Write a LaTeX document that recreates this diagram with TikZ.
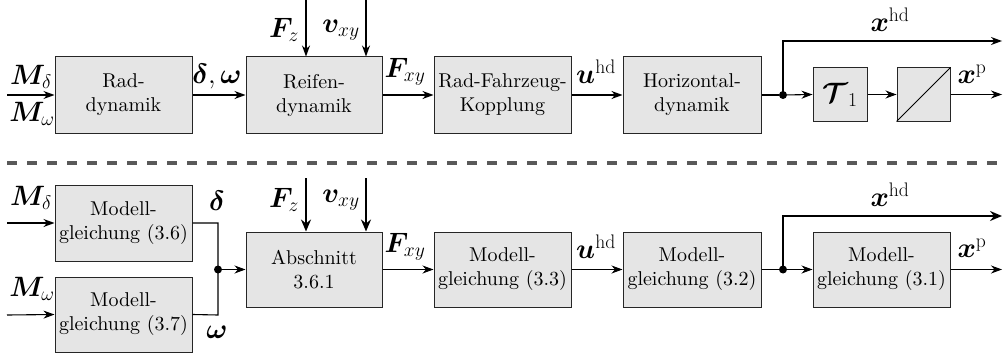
\RequirePackage{fix-cm}
\documentclass[tikz,border=0pt]{standalone}
\usepackage{amsmath,bm}
\usepackage[no-math]{fontspec}
\setmainfont{lmroman10-regular}[Extension=.otf]
\usetikzlibrary{arrows.meta}

\newcommand\mathlbl{\fontsize{28}{30}\selectfont}

\begin{document}
\begin{tikzpicture}[x=1pt,y=-1pt,
  font=\fontsize{20}{24}\selectfont,
  blk/.style={draw=black!85, fill=gray!20, line width=1pt, rectangle,
    inner sep=0pt, align=center, minimum width=137pt, minimum height=76pt},
  sblk/.style={blk, minimum width=54pt, minimum height=53pt},
  sig/.style={line width=1.1pt, -{Stealth[length=11pt,width=8pt,inset=3.5pt]}},
  wire/.style={line width=1.1pt},
  bsig/.style={line width=2.4pt, -{Stealth[length=12pt,width=10pt,inset=4pt]}},
  lbl/.style={font=\mathlbl, inner sep=0pt},
  dotnode/.style={circle, fill=black, inner sep=0pt, minimum size=8pt},
  sep/.style={line width=4.5pt, draw=black!65, dash pattern=on 10pt off 10pt}
]
\useasboundingbox (0,0) rectangle (1006,353);

% ---------- upper chain ----------
\node[blk] (rad)   at (123.5,95) {Rad-\\dynamik};
\node[blk, minimum width=136pt] (reif) at (314,95) {Reifen-\\dynamik};
\node[blk] (kopp)  at (502.5,95) {Rad-Fahrzeug-\\Kopplung};
\node[blk, minimum width=138pt] (horiz) at (692,95) {Horizontal-\\dynamik};
\node[sblk] (tau)  at (840,94.5) {};
\node[lbl] at (tau.center) {$\bm{\mathcal{T}}_1$};
\node[sblk, minimum width=53pt] (conv) at (923.5,94.5) {};
\draw[line width=1pt] (conv.south west) -- (conv.north east);

\coordinate (inA) at (7,95);
\coordinate (fzA) at (306,0);
\coordinate (vxyA) at (366,0);
\node[dotnode] (jA) at (783,95) {};
\coordinate (upA) at (783,41);
\coordinate (hdA) at (1002,41);
\coordinate (outA) at (1002,94.5);

\draw[sig] (inA) -- (rad.west);
\draw[sig] (rad.east) -- (reif.west);
\draw[sig] (fzA) -- (fzA |- reif.north);
\draw[sig] (vxyA) -- (vxyA |- reif.north);
\draw[sig] (reif.east) -- (kopp.west);
\draw[sig] (kopp.east) -- (horiz.west);
\draw[wire] (horiz.east) -- (jA);
\draw[sig] (jA) -- (tau.west);
\draw[sig] (jA.center) -- (upA) -- (hdA);
\draw[sig] (tau.east) -- (conv.west);
\draw[sig] (conv.east) -- (outA);

\node[lbl] (mdA) at (31,77)  {$\bm{M}_{\delta}$};
\node[lbl] (mwA) at (32,114) {$\bm{M}_{\omega}$};
\node[lbl] (dwA) at (217,76) {$\bm{\delta},\bm{\omega}$};
\node[lbl] (fzlA) at (284,30) {$\bm{F}_{z}$};
\node[lbl] (vlA) at (341,30) {$\bm{v}_{xy}$};
\node[lbl] (fxyA) at (405,72) {$\bm{F}_{xy}$};
\node[lbl] (uA) at (596,72) {$\bm{u}^{\mathrm{hd}}$};
\node[lbl] (xhdA) at (890,20) {$\bm{x}^{\mathrm{hd}}$};
\node[lbl] (xpA) at (972,74) {$\bm{x}^{\mathrm{p}}$};

% ---------- separator ----------
\coordinate (sepL) at (7,163);
\coordinate (sepR) at (1006,163);
\draw[sep] (sepL) -- (sepR);

% ---------- lower chain ----------
\node[blk] (m36) at (123.5,223) {Modell-\\gleichung (3.6)};
\node[blk, minimum height=75pt] (m37) at (123.5,314.5) {Modell-\\gleichung (3.7)};
\node[blk, minimum width=136pt, minimum height=75pt] (abs) at (314,269.5) {Abschnitt\\3.6.1};
\node[blk, minimum height=75pt] (m33) at (502.5,269.5) {Modell-\\gleichung (3.3)};
\node[blk, minimum width=138pt, minimum height=75pt] (m32) at (692,269.5) {Modell-\\gleichung (3.2)};
\node[blk, minimum height=75pt] (m31) at (881.5,269.5) {Modell-\\gleichung (3.1)};

\coordinate (inD) at (7,223);
\coordinate (inW) at (7,315);
\coordinate (cD) at (218,223);
\coordinate (cW) at (218,315);
\node[dotnode] (jB) at (218,269.5) {};
\coordinate (fzB) at (306,178);
\coordinate (vxyB) at (366,178);
\node[dotnode] (jC) at (783,269.5) {};
\coordinate (upC) at (783,216);
\coordinate (hdC) at (1002,216);
\coordinate (outC) at (1002,269.5);

\draw[sig] (inD) -- (m36.west);
\draw[sig] (inW) -- (m37.west);
\draw[wire] (m36.east) -- (cD) -- (cW) -- (m37.east);
\draw[sig] (jB) -- (abs.west);
\draw[bsig] (fzB) -- (fzB |- abs.north);
\draw[bsig] (vxyB) -- (vxyB |- abs.north);
\draw[sig] (abs.east) -- (m33.west);
\draw[sig] (m33.east) -- (m32.west);
\draw[wire] (m32.east) -- (jC);
\draw[sig] (jC) -- (m31.west);
\draw[bsig] (jC.center) -- (upC) -- (hdC);
\draw[sig] (m31.east) -- (outC);

\node[lbl] (mdB) at (31,198)  {$\bm{M}_{\delta}$};
\node[lbl] (mwB) at (32,289) {$\bm{M}_{\omega}$};
\node[lbl] (dB) at (217,201) {$\bm{\delta}$};
\node[lbl] (wB) at (217,332) {$\bm{\omega}$};
\node[lbl] (fzlB) at (284,200) {$\bm{F}_{z}$};
\node[lbl] (vlB) at (341,200) {$\bm{v}_{xy}$};
\node[lbl] (fxyB) at (405,247) {$\bm{F}_{xy}$};
\node[lbl] (uB) at (596,247) {$\bm{u}^{\mathrm{hd}}$};
\node[lbl] (xhdB) at (890,195) {$\bm{x}^{\mathrm{hd}}$};
\node[lbl] (xpB) at (972,248) {$\bm{x}^{\mathrm{p}}$};
\end{tikzpicture}
\end{document}
